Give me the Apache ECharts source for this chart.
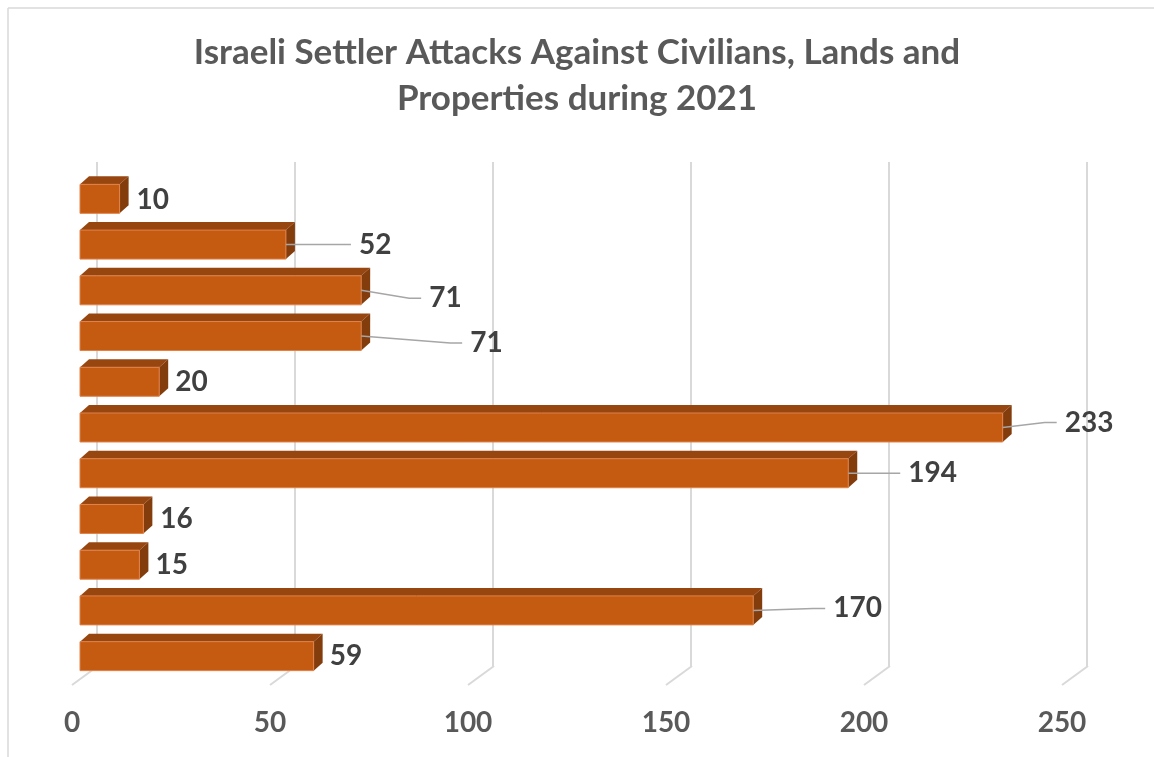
<!DOCTYPE html>
<html>
<head>
<meta charset="utf-8">
<script src="https://cdn.jsdelivr.net/npm/echarts@6/dist/echarts.min.js"></script>
<style>html,body{margin:0;padding:0;background:#fff}#c{width:1154px;height:757px}</style>
</head>
<body>
<div id="c"></div>
<script>
// ---- data ----
const titleText = 'Israeli Settler Attacks Against Civilians, Lands and\nProperties during 2021';
const categories = ['C1','C2','C3','C4','C5','C6','C7','C8','C9','C10','C11'];
const values = [10, 52, 71, 71, 20, 233, 194, 16, 15, 170, 59];
const tickValues = [0, 50, 100, 150, 200, 250];

// ---- label layout (offset of label from bar end, leader line flag) ----
const labelOffsets = [[17,1],[73,0],[68,8],[109,7],[16,0],[62,-5],[60,0],[17,0],[16,0],[80,-2],[16,0]];
const labelLeader = [false,true,true,true,false,true,true,false,false,true,false];

const FONT = 'Lato, "Open Sans", sans-serif';
const DX = 9, DY = -8;          // bar depth
const FDX = 26, FDY = -19;      // floor depth

const chart = echarts.init(document.getElementById('c'), null, {renderer: 'canvas'});

function renderBar(params, api) {
  const i = api.value(0);
  const v = api.value(1);
  const p0 = api.coord([0, i]);
  const p1 = api.coord([v, i]);
  const band = api.size([0, 1])[1];
  const h = band * 0.634;
  const x0 = p0[0], x1 = p1[0], yc = p0[1];
  const yt = yc - h / 2, yb = yc + h / 2;
  const children = [
    {type: 'polygon', shape: {points: [[x0, yt], [x1, yt], [x1 + DX, yt + DY], [x0 + DX, yt + DY]]},
     style: {fill: '#984610'}},
    {type: 'polygon', shape: {points: [[x1, yt], [x1 + DX, yt + DY], [x1 + DX, yb + DY], [x1, yb]]},
     style: {fill: '#833C0C'}},
    {type: 'rect', shape: {x: x0, y: yt, width: x1 - x0, height: h},
     style: {fill: '#C55A11', stroke: '#E0824A', lineWidth: 1}}
  ];
  const off = labelOffsets[i];
  const lx = x1 + off[0], ly = yc + off[1];
  if (labelLeader[i]) {
    children.push({type: 'polyline', shape: {points: [[x1, yc], [lx - 20, ly], [lx - 8, ly]]},
      style: {stroke: '#A6A6A6', lineWidth: 1.5, fill: null}});
  }
  children.push({type: 'text', x: lx, y: ly,
    style: {text: String(v), fill: '#404040', font: 'bold 28px ' + FONT, verticalAlign: 'middle', align: 'left'}});
  return {type: 'group', children: children};
}

function renderFloor(params, api) {
  const v = api.value(0);
  const p = api.coord([v, 0]);
  return {type: 'line', shape: {x1: p[0], y1: p[1], x2: p[0] + FDX, y2: p[1] + FDY},
    style: {stroke: '#D9D9D9', lineWidth: 2}};
}

const option = {
  backgroundColor: '#ffffff',
  animation: false,
  title: {
    text: titleText,
    left: 'center',
    top: 30,
    padding: [0, 0, 0, 14],
    textStyle: {fontFamily: FONT, fontWeight: 'bold', fontSize: 35, color: '#595959', lineHeight: 46}
  },
  graphic: [
    {type: 'line', shape: {x1: 8, y1: 8, x2: 1154, y2: 8}, style: {stroke: '#D9D9D9', lineWidth: 1.5}},
    {type: 'line', shape: {x1: 8, y1: 8, x2: 8, y2: 757}, style: {stroke: '#D9D9D9', lineWidth: 1.5}}
  ],
  grid: [
    {left: 97, right: 67, top: 162, bottom: 91},
    {left: 72, right: 92, top: 666, bottom: 72},
    {left: 80, right: 84, top: 176, bottom: 78}
  ],
  xAxis: [
    {gridIndex: 0, type: 'value', min: 0, max: 250, interval: 50,
     axisLine: {show: false}, axisTick: {show: false}, axisLabel: {show: false},
     splitLine: {show: true, lineStyle: {color: '#D9D9D9', width: 2}}},
    {gridIndex: 1, type: 'value', min: 0, max: 250, interval: 50,
     axisLine: {show: false}, axisTick: {show: false}, splitLine: {show: false},
     axisLabel: {show: true, color: '#595959', fontFamily: FONT, fontWeight: 'bold', fontSize: 28, margin: 24}},
    {gridIndex: 2, type: 'value', min: 0, max: 250, interval: 50, show: false}
  ],
  yAxis: [
    {gridIndex: 0, type: 'value', min: 0, max: 1, show: false},
    {gridIndex: 1, type: 'value', min: 0, max: 1, show: false},
    {gridIndex: 2, type: 'category', data: categories, inverse: true, show: false}
  ],
  series: [
    {type: 'custom', xAxisIndex: 1, yAxisIndex: 1, z: 1, silent: true,
     data: tickValues.map(v => [v]), renderItem: renderFloor, encode: {x: 0}},
    {type: 'custom', xAxisIndex: 2, yAxisIndex: 2, z: 5, silent: true,
     data: values.map((v, i) => [i, v]), renderItem: renderBar, encode: {x: 1, y: 0}}
  ]
};
chart.setOption(option);
</script>
</body>
</html>
